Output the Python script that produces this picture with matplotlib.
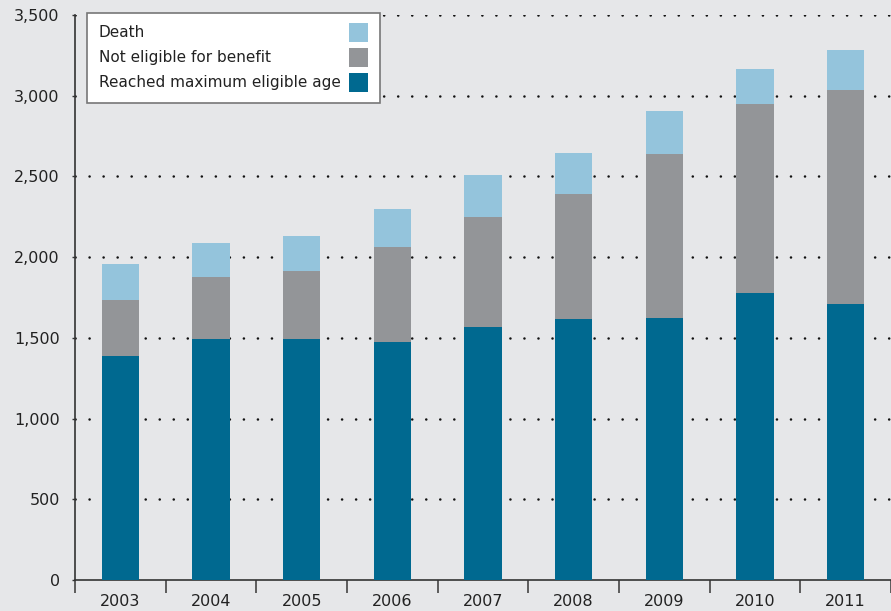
import matplotlib
matplotlib.use("Agg")
import matplotlib.pyplot as plt
from matplotlib.patches import Rectangle
import numpy as np

plt.rcParams['lines.scale_dashes'] = False
plt.rcParams['font.family'] = ['DejaVu Sans']

years = ["2003", "2004", "2005", "2006", "2007", "2008", "2009", "2010", "2011"]
reached_max_age = [1388, 1493, 1493, 1474, 1567, 1617, 1623, 1778, 1710]
not_eligible = [347, 384, 421, 589, 682, 774, 1016, 1171, 1326]
death = [223, 211, 217, 235, 260, 254, 266, 217, 247]

series_labels = ["Death", "Not eligible for benefit", "Reached maximum eligible age"]
c_blue = "#006990"
c_gray = "#939598"
c_light = "#94c4dc"
bg = "#e6e7e9"

W, H = 891, 611
fig = plt.figure(figsize=(W / 100, H / 100), dpi=100, facecolor=bg)
ax = fig.add_axes([75 / W, (H - 580) / H, (W - 75) / W, (580 - 15) / H])
ax.set_facecolor(bg)

x = np.arange(len(years))
bw = 0.41
b1 = np.array(reached_max_age)
b2 = b1 + np.array(not_eligible)
ax.bar(x, reached_max_age, bw, color=c_blue, zorder=3)
ax.bar(x, not_eligible, bw, bottom=b1, color=c_gray, zorder=3)
ax.bar(x, death, bw, bottom=b2, color=c_light, zorder=3)

ax.set_xlim(-0.5, len(years) - 0.5)
ax.set_ylim(0, 3500)
yt = np.arange(0, 3501, 500)
ax.set_yticks(yt)
ax.set_yticklabels([f"{v:,}" for v in yt], fontsize=11.5, color="#222222")
for v in yt[1:]:
    ax.axhline(v, color="#111111", linewidth=1.8, linestyle=(0, (0.1, 10.0)),
               dash_capstyle="round", zorder=1)

ax.set_xticks(x)
ax.set_xticklabels(years, fontsize=11.5, color="#222222")
ax.set_xticks(np.arange(-0.5, len(years), 1.0), minor=True)
ax.tick_params(axis="x", which="major", length=0, pad=10)
ax.tick_params(axis="x", which="minor", length=9, width=1.2, color="#444444", direction="out")
ax.tick_params(axis="y", length=2, width=1, color="#333333", pad=9)

for s in ["top", "right"]:
    ax.spines[s].set_visible(False)
ax.spines["left"].set_color("#333333")
ax.spines["bottom"].set_color("#333333")
ax.spines["left"].set_linewidth(1.2)
ax.spines["bottom"].set_linewidth(1.2)

# legend box (figure pixel coordinates)
def fx(px):
    return px / W

def fy(py):
    return (H - py) / H

fig.patches.append(Rectangle((fx(87), fy(103)), fx(380) - fx(87), fy(13) - fy(103),
                             transform=fig.transFigure, facecolor="white",
                             edgecolor="#777777", linewidth=1.2, zorder=5))
rows_y = [32.5, 57.5, 82.5]
cols = [c_light, c_gray, c_blue]
for lab, yy, col in zip(series_labels, rows_y, cols):
    fig.text(fx(99), fy(yy), lab, fontsize=11, color="#222222", va="center", ha="left", zorder=6)
    fig.patches.append(Rectangle((fx(349), fy(yy + 9.5)), 19 / W, 19 / H,
                                 transform=fig.transFigure, facecolor=col,
                                 edgecolor="none", zorder=6))

fig.savefig("out.png", dpi=100, facecolor=bg)
